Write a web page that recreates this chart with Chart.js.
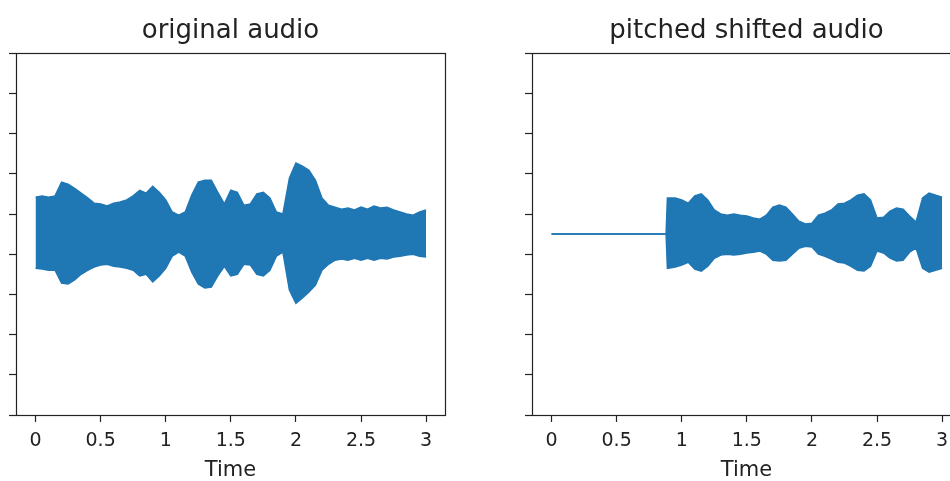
<!DOCTYPE html>
<html>
<head>
<meta charset="utf-8">
<script src="https://cdn.jsdelivr.net/npm/chart.js@4.4.1/dist/chart.umd.min.js"></script>
<style>
  html, body { margin: 0; padding: 0; background: #fff; }
  body { width: 950px; height: 481px; overflow: hidden; position: relative; }
  .panel { position: absolute; top: 0; width: 461px; height: 481px; }
</style>
</head>
<body>
<div class="panel" style="left:0"><canvas id="origChart" width="461" height="481"></canvas></div>
<div class="panel" style="left:516px"><canvas id="shiftChart" width="461" height="481"></canvas></div>
<script>
// waveform envelopes (upper / lower edge of the signal), time in seconds
const origTime = [0, 0.05, 0.1, 0.15, 0.2, 0.25, 0.3, 0.35, 0.4, 0.45, 0.5, 0.55, 0.6, 0.65, 0.7, 0.75, 0.8, 0.85, 0.9, 0.95,
  1, 1.05, 1.1, 1.15, 1.2, 1.25, 1.3, 1.35, 1.4, 1.45, 1.5, 1.55, 1.6, 1.65, 1.7, 1.75, 1.8, 1.85, 1.9, 1.95,
  2, 2.05, 2.1, 2.15, 2.2, 2.25, 2.3, 2.35, 2.4, 2.45, 2.5, 2.55, 2.6, 2.65, 2.7, 2.75, 2.8, 2.85, 2.9, 2.95, 3];
const origUpper = [0.92, 0.95, 0.92, 0.95, 1.29, 1.24, 1.14, 1.02, 0.90, 0.77, 0.75, 0.70, 0.77, 0.80, 0.85, 0.95, 1.09, 1.02, 1.19, 1.04,
  0.85, 0.55, 0.47, 0.55, 0.97, 1.29, 1.34, 1.34, 1.04, 0.75, 1.09, 1.04, 0.72, 0.75, 1.00, 1.04, 0.90, 0.55, 0.50, 1.39,
  1.77, 1.69, 1.59, 1.34, 0.90, 0.72, 0.67, 0.62, 0.65, 0.60, 0.67, 0.62, 0.70, 0.65, 0.67, 0.60, 0.55, 0.50, 0.47, 0.55, 0.60];
const origLower = [-0.85, -0.87, -0.90, -0.90, -1.22, -1.24, -1.14, -1.00, -0.90, -0.82, -0.77, -0.75, -0.80, -0.82, -0.85, -0.90, -1.04, -1.00, -1.19, -1.04,
  -0.85, -0.55, -0.45, -0.55, -0.95, -1.24, -1.34, -1.32, -1.04, -0.80, -1.04, -1.00, -0.75, -0.77, -1.00, -1.04, -0.90, -0.55, -0.45, -1.39,
  -1.72, -1.59, -1.44, -1.27, -0.90, -0.75, -0.65, -0.62, -0.65, -0.60, -0.65, -0.60, -0.65, -0.60, -0.62, -0.57, -0.55, -0.52, -0.50, -0.55, -0.57];

// shifted signal is silent until ~0.88 s
const shiftTime = [0, 0.88, 0.89, 0.95, 1, 1.05, 1.1, 1.15, 1.2, 1.25, 1.3, 1.35, 1.4, 1.45, 1.5, 1.55, 1.6, 1.65, 1.7, 1.75, 1.8, 1.85, 1.9, 1.95,
  2, 2.05, 2.1, 2.15, 2.2, 2.25, 2.3, 2.35, 2.4, 2.45, 2.5, 2.55, 2.6, 2.65, 2.7, 2.75, 2.8, 2.85, 2.9, 2.95, 3];
const shiftUpper = [0, 0, 0.90, 0.90, 0.85, 0.77, 0.95, 1.00, 0.85, 0.60, 0.50, 0.47, 0.50, 0.47, 0.45, 0.40, 0.37, 0.47, 0.67, 0.72, 0.67, 0.50, 0.32, 0.25,
  0.27, 0.47, 0.52, 0.60, 0.75, 0.77, 0.85, 0.97, 1.00, 0.85, 0.40, 0.42, 0.57, 0.65, 0.62, 0.45, 0.30, 0.90, 1.02, 0.97, 0.92];
const shiftLower = [0, 0, -0.85, -0.82, -0.77, -0.70, -0.87, -0.92, -0.80, -0.60, -0.52, -0.50, -0.52, -0.50, -0.47, -0.45, -0.42, -0.50, -0.65, -0.67, -0.65, -0.50, -0.35, -0.30,
  -0.32, -0.50, -0.55, -0.62, -0.70, -0.72, -0.80, -0.90, -0.92, -0.80, -0.42, -0.47, -0.60, -0.67, -0.65, -0.45, -0.35, -0.85, -0.95, -0.90, -0.85];

const xTicks = [0, 0.5, 1, 1.5, 2, 2.5, 3];
const yTicks = [-4.5, -3.5, -2.5, -1.5, -0.5, 0.5, 1.5, 2.5, 3.5, 4.5];

const waveColor = "#1f77b4";
const inkColor = "#222222";

Chart.defaults.font.family = "'DejaVu Sans', sans-serif";
Chart.defaults.color = inkColor;

// draws the closed box round the plot area
const axesFrame = {
  id: "axesFrame",
  afterDraw(chart) {
    const { ctx, chartArea } = chart;
    const l = Math.round(chartArea.left), t = Math.round(chartArea.top);
    const r = Math.round(chartArea.right), b = Math.round(chartArea.bottom);
    ctx.save();
    ctx.strokeStyle = inkColor;
    ctx.lineWidth = 1.2;
    ctx.strokeRect(l + 0.5, t + 0.5, r - l, b - t);
    ctx.restore();
  },
};

function makeWave(canvasId, title, time, upper, lower) {
  const top = time.map((t, i) => ({ x: t, y: upper[i] }));
  const bottom = time.map((t, i) => ({ x: t, y: lower[i] }));

  new Chart(document.getElementById(canvasId), {
    type: "line",
    data: {
      datasets: [
        {
          data: top,
          borderColor: waveColor,
          backgroundColor: waveColor,
          borderWidth: 1.5,
          pointRadius: 0,
          tension: 0,
          fill: "+1",
        },
        {
          data: bottom,
          borderColor: waveColor,
          backgroundColor: waveColor,
          borderWidth: 1.5,
          pointRadius: 0,
          tension: 0,
          fill: false,
        },
      ],
    },
    options: {
      responsive: false,
      animation: false,
      // symmetric side padding keeps the title centred over the plot box
      layout: { padding: { left: 16, right: 16, top: 0, bottom: 0 } },
      plugins: {
        legend: { display: false },
        tooltip: { enabled: false },
        title: {
          display: true,
          text: title,
          color: inkColor,
          font: { size: 26, weight: "normal", lineHeight: 1.2 },
          padding: { top: 16, bottom: 6 },
        },
      },
      scales: {
        x: {
          type: "linear",
          min: -0.15,
          max: 3.145,
          afterBuildTicks: (scale) => {
            scale.ticks = xTicks.map((v) => ({ value: v }));
          },
          afterFit: (scale) => {
            scale.height = 66;
          },
          ticks: {
            callback: (v) => String(v),
            font: { size: 19 },
            color: inkColor,
            padding: 8,
            maxRotation: 0,
          },
          grid: {
            drawOnChartArea: false,
            drawTicks: true,
            tickLength: 7,
            tickColor: inkColor,
            tickWidth: 1.2,
          },
          border: { display: false },
          title: {
            display: true,
            text: "Time",
            color: inkColor,
            font: { size: 21, lineHeight: 1.0 },
            padding: { top: 0, bottom: 0 },
          },
        },
        y: {
          type: "linear",
          min: -4.5,
          max: 4.5,
          afterBuildTicks: (scale) => {
            scale.ticks = yTicks.map((v) => ({ value: v }));
          },
          afterFit: (scale) => {
            scale.width = 0;
          },
          ticks: { display: false },
          grid: {
            drawOnChartArea: false,
            drawTicks: true,
            tickLength: 7,
            tickColor: inkColor,
            tickWidth: 1.2,
          },
          border: { display: false },
        },
      },
    },
    plugins: [axesFrame],
  });
}

makeWave("origChart", "original audio", origTime, origUpper, origLower);
makeWave("shiftChart", "pitched shifted audio", shiftTime, shiftUpper, shiftLower);
</script>
</body>
</html>
